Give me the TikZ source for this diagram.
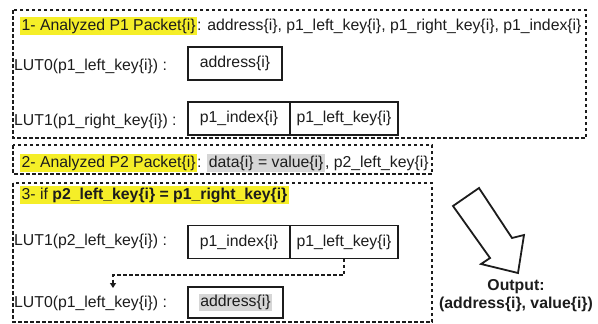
\documentclass[tikz,border=0pt]{standalone}
\usepackage{fontspec}
\setmainfont{Liberation Sans}
\usetikzlibrary{arrows.meta,calc}
\definecolor{hlyellow}{RGB}{245,238,40}
\definecolor{hlgrey}{RGB}{214,214,214}
\definecolor{ink}{RGB}{28,28,28}
\setlength{\fboxsep}{1.5pt}
\begin{document}
\begin{tikzpicture}[x=1pt,y=-1pt,
  txt/.style={font=\fontsize{15.8}{18}\selectfont, text=ink, inner sep=0pt},
  frame/.style={draw=ink, line width=1.8pt, dash pattern=on 3.5pt off 2.5pt},
  cell/.style={txt, draw=ink, line width=1.4pt, outer sep=0pt, minimum height=33pt},
  link/.style={draw=ink, line width=1.6pt, dash pattern=on 3.5pt off 2.5pt},
  bigarrow/.style={draw=ink, line width=1.8pt, fill=white, line join=miter}]

\useasboundingbox (0,0) rectangle (598,324);

% step 1: the P1 packet and its two look-up tables
\draw[frame] (13,10) rectangle (586,138);
\node[txt, anchor=west] (head1) at (20,26)
  {\colorbox{hlyellow}{1- Analyzed P1 Packet\{i\}}: address\{i\}, p1\_left\_key\{i\}, p1\_right\_key\{i\}, p1\_index\{i\}};
\node[txt, anchor=west] (lutA) at (14,66) {LUT0(p1\_left\_key\{i\}) :};
\node[cell, minimum width=94pt] (addrA) at (235,63.5) {address\{i\}};
\node[txt, anchor=west] (lutB) at (14,121) {LUT1(p1\_right\_key\{i\}) :};
\node[cell, minimum width=102pt] (idxB) at (239,118.5) {p1\_index\{i\}};
\node[cell, minimum width=108pt, anchor=west] (keyB) at (idxB.east) {p1\_left\_key\{i\}};

% step 2: the P2 packet
\draw[frame] (13,145) rectangle (432,174);
\node[txt, anchor=west] (head2) at (20,163)
  {\colorbox{hlyellow}{2- Analyzed P2 Packet\{i\}}: \colorbox{hlgrey}{data\{i\} = value\{i\}}, p2\_left\_key\{i\}};

% step 3: matching keys and chained look-ups
\draw[frame] (13,183) rectangle (432,322);
\node[txt, anchor=west] (head3) at (20,195)
  {\colorbox{hlyellow}{3- if \textbf{p2\_left\_key\{i\} = p1\_right\_key\{i\}}}};
\node[txt, anchor=west] (lutC) at (14,241) {LUT1(p2\_left\_key\{i\}) :};
\node[cell, minimum width=102pt] (idxC) at (239,242) {p1\_index\{i\}};
\node[cell, minimum width=108pt, anchor=west] (keyC) at (idxC.east) {p1\_left\_key\{i\}};
\node[txt, anchor=west] (lutD) at (14,303) {LUT0(p1\_left\_key\{i\}) :};
\node[cell, minimum width=95pt, minimum height=31pt] (addrD) at (235.5,302.5)
  {\colorbox{hlgrey}{address\{i\}}};

% the key found in LUT1 feeds the LUT0 look-up
\coordinate (bend) at (113,275);
\coordinate (drop) at (113,288);
\draw[link, -{Triangle[width=6pt,length=5pt]}] (keyC.south) |- (bend) -- (drop);

% output arrow and result
\draw[bigarrow] (453,206) -- (479,188) -- (512,238) -- (524,235)
  -- (518,273) -- (481,264) -- (490,258) -- cycle;
\node[txt, font=\fontsize{15.8}{18}\selectfont\bfseries, align=center] (out) at (516,296)
  {Output:\\(address\{i\}, value\{i\})};
\end{tikzpicture}
\end{document}
